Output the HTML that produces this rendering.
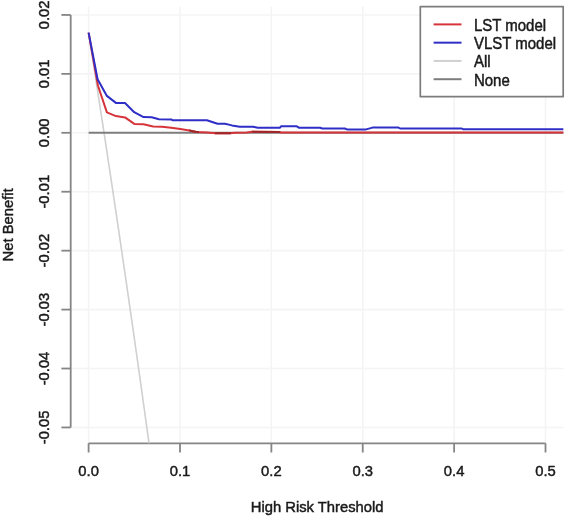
<!DOCTYPE html>
<html><head><meta charset="utf-8"><style>
html,body{margin:0;padding:0;background:#fff;}
svg{display:block;filter:blur(0.35px);}
text{font-family:"Liberation Sans",sans-serif;font-size:14.8px;fill:#1a1a1a;stroke:#1a1a1a;stroke-width:0.45px;}
</style></head><body>
<svg width="565" height="517" viewBox="0 0 565 517">
<defs><clipPath id="pr"><rect x="70.7" y="6.4" width="492.90" height="436.90"/></clipPath></defs>
<rect width="565" height="517" fill="#fff"/>
<line x1="88.60" y1="6.4" x2="88.60" y2="443.3" stroke="#f4f4f4" stroke-width="1.6"/>
<line x1="179.98" y1="6.4" x2="179.98" y2="443.3" stroke="#f4f4f4" stroke-width="1.6"/>
<line x1="271.36" y1="6.4" x2="271.36" y2="443.3" stroke="#f4f4f4" stroke-width="1.6"/>
<line x1="362.74" y1="6.4" x2="362.74" y2="443.3" stroke="#f4f4f4" stroke-width="1.6"/>
<line x1="454.12" y1="6.4" x2="454.12" y2="443.3" stroke="#f4f4f4" stroke-width="1.6"/>
<line x1="545.50" y1="6.4" x2="545.50" y2="443.3" stroke="#f4f4f4" stroke-width="1.6"/>
<line x1="70.7" y1="14.94" x2="563.6" y2="14.94" stroke="#f4f4f4" stroke-width="1.6"/>
<line x1="70.7" y1="73.87" x2="563.6" y2="73.87" stroke="#f4f4f4" stroke-width="1.6"/>
<line x1="70.7" y1="132.80" x2="563.6" y2="132.80" stroke="#f4f4f4" stroke-width="1.6"/>
<line x1="70.7" y1="191.73" x2="563.6" y2="191.73" stroke="#f4f4f4" stroke-width="1.6"/>
<line x1="70.7" y1="250.66" x2="563.6" y2="250.66" stroke="#f4f4f4" stroke-width="1.6"/>
<line x1="70.7" y1="309.59" x2="563.6" y2="309.59" stroke="#f4f4f4" stroke-width="1.6"/>
<line x1="70.7" y1="368.52" x2="563.6" y2="368.52" stroke="#f4f4f4" stroke-width="1.6"/>
<line x1="70.7" y1="427.45" x2="563.6" y2="427.45" stroke="#f4f4f4" stroke-width="1.6"/>
<line x1="70.7" y1="14.94" x2="70.7" y2="427.45" stroke="#858585" stroke-width="1.8"/>
<line x1="61.40" y1="14.94" x2="70.7" y2="14.94" stroke="#858585" stroke-width="1.8"/>
<text transform="translate(49.3,14.94) rotate(-90) scale(1,1.05)" text-anchor="middle">0.02</text>
<line x1="61.40" y1="73.87" x2="70.7" y2="73.87" stroke="#858585" stroke-width="1.8"/>
<text transform="translate(49.3,73.87) rotate(-90) scale(1,1.05)" text-anchor="middle">0.01</text>
<line x1="61.40" y1="132.80" x2="70.7" y2="132.80" stroke="#858585" stroke-width="1.8"/>
<text transform="translate(49.3,132.80) rotate(-90) scale(1,1.05)" text-anchor="middle">0.00</text>
<line x1="61.40" y1="191.73" x2="70.7" y2="191.73" stroke="#858585" stroke-width="1.8"/>
<text transform="translate(49.3,191.73) rotate(-90) scale(1,1.05)" text-anchor="middle">-0.01</text>
<line x1="61.40" y1="250.66" x2="70.7" y2="250.66" stroke="#858585" stroke-width="1.8"/>
<text transform="translate(49.3,250.66) rotate(-90) scale(1,1.05)" text-anchor="middle">-0.02</text>
<line x1="61.40" y1="309.59" x2="70.7" y2="309.59" stroke="#858585" stroke-width="1.8"/>
<text transform="translate(49.3,309.59) rotate(-90) scale(1,1.05)" text-anchor="middle">-0.03</text>
<line x1="61.40" y1="368.52" x2="70.7" y2="368.52" stroke="#858585" stroke-width="1.8"/>
<text transform="translate(49.3,368.52) rotate(-90) scale(1,1.05)" text-anchor="middle">-0.04</text>
<line x1="61.40" y1="427.45" x2="70.7" y2="427.45" stroke="#858585" stroke-width="1.8"/>
<text transform="translate(49.3,427.45) rotate(-90) scale(1,1.05)" text-anchor="middle">-0.05</text>
<line x1="88.60" y1="443.3" x2="545.50" y2="443.3" stroke="#858585" stroke-width="1.8"/>
<line x1="88.60" y1="443.3" x2="88.60" y2="452.50" stroke="#858585" stroke-width="1.8"/>
<text transform="translate(88.60,476.1) scale(1,1.05)" text-anchor="middle">0.0</text>
<line x1="179.98" y1="443.3" x2="179.98" y2="452.50" stroke="#858585" stroke-width="1.8"/>
<text transform="translate(179.98,476.1) scale(1,1.05)" text-anchor="middle">0.1</text>
<line x1="271.36" y1="443.3" x2="271.36" y2="452.50" stroke="#858585" stroke-width="1.8"/>
<text transform="translate(271.36,476.1) scale(1,1.05)" text-anchor="middle">0.2</text>
<line x1="362.74" y1="443.3" x2="362.74" y2="452.50" stroke="#858585" stroke-width="1.8"/>
<text transform="translate(362.74,476.1) scale(1,1.05)" text-anchor="middle">0.3</text>
<line x1="454.12" y1="443.3" x2="454.12" y2="452.50" stroke="#858585" stroke-width="1.8"/>
<text transform="translate(454.12,476.1) scale(1,1.05)" text-anchor="middle">0.4</text>
<line x1="545.50" y1="443.3" x2="545.50" y2="452.50" stroke="#858585" stroke-width="1.8"/>
<text transform="translate(545.50,476.1) scale(1,1.05)" text-anchor="middle">0.5</text>
<text transform="translate(317.15,512.1) scale(1,1.05)" text-anchor="middle">High Risk Threshold</text>
<text transform="translate(13.2,224.85) rotate(-90) scale(1,1.05)" text-anchor="middle">Net Benefit</text>
<g clip-path="url(#pr)">
<polyline points="88.60,33.21 90.43,44.82 92.26,56.48 94.08,68.18 95.91,79.93 97.74,91.73 99.57,103.57 101.39,115.47 103.22,127.41 105.05,139.40 106.88,151.44 108.70,163.53 110.53,175.67 112.36,187.86 114.19,200.10 116.01,212.39 117.84,224.73 119.67,237.12 121.50,249.56 123.32,262.05 125.15,274.60 126.98,287.20 128.81,299.85 130.63,312.56 132.46,325.31 134.29,338.12 136.12,350.99 137.95,363.91 139.77,376.89 141.60,389.91 143.43,403.00 145.26,416.14 147.08,429.34 148.91,442.59 150.74,455.90" fill="none" stroke="#d0d0d0" stroke-width="1.6"/>
<line x1="88.60" y1="132.8" x2="563.6" y2="132.8" stroke="#7e7e7e" stroke-width="2"/>
<polyline points="88.60,32.60 97.90,85.50 106.90,112.40 115.90,116.10 125.00,117.40 134.30,123.90 143.50,124.30 153.10,126.40 162.00,126.80 171.20,127.80 180.30,129.00 189.40,130.50 196.50,131.90 207.30,132.50 215.80,133.30 229.60,133.30 234.90,132.70 246.90,132.60 251.70,131.80 279.80,132.00 281.00,132.50 563.60,132.50" fill="none" stroke="#d6343a" stroke-width="2.0" stroke-linejoin="round"/>
<clipPath id="d189"><rect x="189" y="100" width="10" height="50"/></clipPath>
<polyline clip-path="url(#d189)" points="88.60,32.60 97.90,85.50 106.90,112.40 115.90,116.10 125.00,117.40 134.30,123.90 143.50,124.30 153.10,126.40 162.00,126.80 171.20,127.80 180.30,129.00 189.40,130.50 196.50,131.90 207.30,132.50 215.80,133.30 229.60,133.30 234.90,132.70 246.90,132.60 251.70,131.80 279.80,132.00 281.00,132.50 563.60,132.50" fill="none" stroke="#a02628" stroke-width="2.0" stroke-linejoin="round"/>
<clipPath id="d215"><rect x="215" y="100" width="16" height="50"/></clipPath>
<polyline clip-path="url(#d215)" points="88.60,32.60 97.90,85.50 106.90,112.40 115.90,116.10 125.00,117.40 134.30,123.90 143.50,124.30 153.10,126.40 162.00,126.80 171.20,127.80 180.30,129.00 189.40,130.50 196.50,131.90 207.30,132.50 215.80,133.30 229.60,133.30 234.90,132.70 246.90,132.60 251.70,131.80 279.80,132.00 281.00,132.50 563.60,132.50" fill="none" stroke="#a02628" stroke-width="2.0" stroke-linejoin="round"/>
<clipPath id="d252"><rect x="252" y="100" width="28" height="50"/></clipPath>
<polyline clip-path="url(#d252)" points="88.60,32.60 97.90,85.50 106.90,112.40 115.90,116.10 125.00,117.40 134.30,123.90 143.50,124.30 153.10,126.40 162.00,126.80 171.20,127.80 180.30,129.00 189.40,130.50 196.50,131.90 207.30,132.50 215.80,133.30 229.60,133.30 234.90,132.70 246.90,132.60 251.70,131.80 279.80,132.00 281.00,132.50 563.60,132.50" fill="none" stroke="#a02628" stroke-width="2.0" stroke-linejoin="round"/>
<polyline points="88.60,32.60 97.60,79.30 106.90,95.90 115.90,102.90 125.00,103.00 134.20,112.20 143.50,117.10 151.60,117.20 159.00,119.20 171.20,119.40 172.80,120.30 206.90,120.20 217.50,123.80 225.00,123.80 231.90,125.40 239.80,126.80 253.10,126.80 257.80,127.70 279.80,127.70 281.20,126.30 296.80,126.30 298.90,127.70 320.10,127.70 322.30,128.50 344.90,128.50 347.00,129.40 366.10,129.40 372.50,127.60 398.50,127.60 400.10,128.50 461.80,128.50 463.00,129.20 563.60,129.20" fill="none" stroke="#2f2fc8" stroke-width="2.0" stroke-linejoin="round"/>
</g>
<rect x="420.3" y="6.6" width="142.90" height="90.10" fill="#fff" stroke="#7c7c7c" stroke-width="1.7" stroke-linejoin="round"/>
<line x1="433.6" y1="24.40" x2="461.5" y2="24.40" stroke="#d6343a" stroke-width="2"/>
<text style="font-size:15px" transform="translate(473.9,30.70) scale(1,1.05)">LST model</text>
<line x1="433.6" y1="42.67" x2="461.5" y2="42.67" stroke="#2f2fc8" stroke-width="2"/>
<text style="font-size:15px" transform="translate(473.9,48.97) scale(1,1.05)">VLST model</text>
<line x1="433.6" y1="60.94" x2="461.5" y2="60.94" stroke="#d0d0d0" stroke-width="2"/>
<text style="font-size:15px" transform="translate(473.9,67.24) scale(1,1.05)">All</text>
<line x1="433.6" y1="79.21" x2="461.5" y2="79.21" stroke="#7e7e7e" stroke-width="2"/>
<text style="font-size:15px" transform="translate(473.9,85.51) scale(1,1.05)">None</text>
</svg>
</body></html>
